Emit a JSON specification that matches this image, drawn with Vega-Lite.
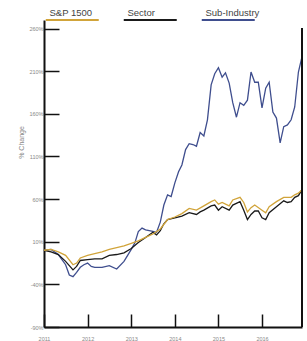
{
  "$schema": "https://vega.github.io/schema/vega-lite/v6.json",
  "autosize": {"type": "none"},
  "padding": {"left": 44, "top": 20, "right": 5, "bottom": 14},
  "width": 258,
  "height": 307,
  "background": "white",
  "config": {
    "view": {"stroke": null},
    "font": "Liberation Sans",
    "axis": {"grid": false, "domainColor": "#111", "domainWidth": 2, "tickColor": "#111", "tickWidth": 1.5, "labelColor": "#888", "labelFontSize": 5.5, "titleColor": "#888"}
  },
  "data": {"values": [
    {"date":"2011-01-01","series":"Sub-Industry","value":0},
    {"date":"2011-03-01","series":"Sub-Industry","value":1},
    {"date":"2011-05-01","series":"Sub-Industry","value":-5},
    {"date":"2011-07-01","series":"Sub-Industry","value":-17},
    {"date":"2011-08-01","series":"Sub-Industry","value":-29},
    {"date":"2011-09-01","series":"Sub-Industry","value":-31},
    {"date":"2011-10-01","series":"Sub-Industry","value":-26},
    {"date":"2011-11-01","series":"Sub-Industry","value":-20},
    {"date":"2011-12-01","series":"Sub-Industry","value":-17},
    {"date":"2012-01-01","series":"Sub-Industry","value":-15},
    {"date":"2012-02-01","series":"Sub-Industry","value":-19},
    {"date":"2012-03-01","series":"Sub-Industry","value":-20},
    {"date":"2012-05-01","series":"Sub-Industry","value":-20},
    {"date":"2012-07-01","series":"Sub-Industry","value":-18},
    {"date":"2012-09-01","series":"Sub-Industry","value":-22},
    {"date":"2012-11-01","series":"Sub-Industry","value":-13},
    {"date":"2013-01-01","series":"Sub-Industry","value":1},
    {"date":"2013-02-01","series":"Sub-Industry","value":9},
    {"date":"2013-03-01","series":"Sub-Industry","value":22},
    {"date":"2013-04-01","series":"Sub-Industry","value":26},
    {"date":"2013-05-01","series":"Sub-Industry","value":24},
    {"date":"2013-07-01","series":"Sub-Industry","value":22},
    {"date":"2013-08-01","series":"Sub-Industry","value":21},
    {"date":"2013-09-01","series":"Sub-Industry","value":33},
    {"date":"2013-10-01","series":"Sub-Industry","value":53},
    {"date":"2013-11-01","series":"Sub-Industry","value":65},
    {"date":"2013-12-01","series":"Sub-Industry","value":63},
    {"date":"2014-01-01","series":"Sub-Industry","value":79},
    {"date":"2014-02-01","series":"Sub-Industry","value":92},
    {"date":"2014-03-01","series":"Sub-Industry","value":100},
    {"date":"2014-04-01","series":"Sub-Industry","value":118},
    {"date":"2014-05-01","series":"Sub-Industry","value":125},
    {"date":"2014-06-01","series":"Sub-Industry","value":124},
    {"date":"2014-07-01","series":"Sub-Industry","value":122},
    {"date":"2014-08-01","series":"Sub-Industry","value":138},
    {"date":"2014-09-01","series":"Sub-Industry","value":134},
    {"date":"2014-10-01","series":"Sub-Industry","value":153},
    {"date":"2014-11-01","series":"Sub-Industry","value":194},
    {"date":"2014-12-01","series":"Sub-Industry","value":207},
    {"date":"2015-01-01","series":"Sub-Industry","value":214},
    {"date":"2015-02-01","series":"Sub-Industry","value":203},
    {"date":"2015-03-01","series":"Sub-Industry","value":208},
    {"date":"2015-04-01","series":"Sub-Industry","value":196},
    {"date":"2015-05-01","series":"Sub-Industry","value":173},
    {"date":"2015-06-01","series":"Sub-Industry","value":156},
    {"date":"2015-07-01","series":"Sub-Industry","value":173},
    {"date":"2015-08-01","series":"Sub-Industry","value":170},
    {"date":"2015-09-01","series":"Sub-Industry","value":176},
    {"date":"2015-10-01","series":"Sub-Industry","value":209},
    {"date":"2015-11-01","series":"Sub-Industry","value":197},
    {"date":"2015-12-01","series":"Sub-Industry","value":197},
    {"date":"2016-01-01","series":"Sub-Industry","value":167},
    {"date":"2016-02-01","series":"Sub-Industry","value":190},
    {"date":"2016-03-01","series":"Sub-Industry","value":197},
    {"date":"2016-04-01","series":"Sub-Industry","value":162},
    {"date":"2016-05-01","series":"Sub-Industry","value":155},
    {"date":"2016-06-01","series":"Sub-Industry","value":126},
    {"date":"2016-07-01","series":"Sub-Industry","value":145},
    {"date":"2016-08-01","series":"Sub-Industry","value":147},
    {"date":"2016-09-01","series":"Sub-Industry","value":153},
    {"date":"2016-10-01","series":"Sub-Industry","value":168},
    {"date":"2016-11-01","series":"Sub-Industry","value":209},
    {"date":"2016-12-01","series":"Sub-Industry","value":227},
    {"date":"2011-01-01","series":"Sector","value":0},
    {"date":"2011-03-01","series":"Sector","value":-2},
    {"date":"2011-05-01","series":"Sector","value":-5},
    {"date":"2011-07-01","series":"Sector","value":-13},
    {"date":"2011-09-01","series":"Sector","value":-23},
    {"date":"2011-10-01","series":"Sector","value":-19},
    {"date":"2011-11-01","series":"Sector","value":-12},
    {"date":"2012-01-01","series":"Sector","value":-11},
    {"date":"2012-03-01","series":"Sector","value":-10},
    {"date":"2012-05-01","series":"Sector","value":-10},
    {"date":"2012-07-01","series":"Sector","value":-6},
    {"date":"2012-09-01","series":"Sector","value":-5},
    {"date":"2012-11-01","series":"Sector","value":-3},
    {"date":"2013-01-01","series":"Sector","value":2},
    {"date":"2013-03-01","series":"Sector","value":9},
    {"date":"2013-05-01","series":"Sector","value":15},
    {"date":"2013-07-01","series":"Sector","value":21},
    {"date":"2013-08-01","series":"Sector","value":18},
    {"date":"2013-09-01","series":"Sector","value":23},
    {"date":"2013-10-01","series":"Sector","value":31},
    {"date":"2013-11-01","series":"Sector","value":36},
    {"date":"2014-01-01","series":"Sector","value":38},
    {"date":"2014-03-01","series":"Sector","value":40},
    {"date":"2014-05-01","series":"Sector","value":44},
    {"date":"2014-07-01","series":"Sector","value":42},
    {"date":"2014-08-01","series":"Sector","value":45},
    {"date":"2014-09-01","series":"Sector","value":47},
    {"date":"2014-11-01","series":"Sector","value":52},
    {"date":"2014-12-01","series":"Sector","value":53},
    {"date":"2015-01-01","series":"Sector","value":47},
    {"date":"2015-02-01","series":"Sector","value":51},
    {"date":"2015-04-01","series":"Sector","value":47},
    {"date":"2015-05-01","series":"Sector","value":53},
    {"date":"2015-07-01","series":"Sector","value":57},
    {"date":"2015-08-01","series":"Sector","value":47},
    {"date":"2015-09-01","series":"Sector","value":36},
    {"date":"2015-10-01","series":"Sector","value":42},
    {"date":"2015-11-01","series":"Sector","value":46},
    {"date":"2015-12-01","series":"Sector","value":46},
    {"date":"2016-01-01","series":"Sector","value":38},
    {"date":"2016-02-01","series":"Sector","value":36},
    {"date":"2016-03-01","series":"Sector","value":44},
    {"date":"2016-05-01","series":"Sector","value":51},
    {"date":"2016-07-01","series":"Sector","value":58},
    {"date":"2016-08-01","series":"Sector","value":56},
    {"date":"2016-09-01","series":"Sector","value":57},
    {"date":"2016-10-01","series":"Sector","value":62},
    {"date":"2016-11-01","series":"Sector","value":64},
    {"date":"2016-12-01","series":"Sector","value":71},
    {"date":"2011-01-01","series":"S&P 1500","value":0},
    {"date":"2011-03-01","series":"S&P 1500","value":1},
    {"date":"2011-05-01","series":"S&P 1500","value":-2},
    {"date":"2011-07-01","series":"S&P 1500","value":-6},
    {"date":"2011-09-01","series":"S&P 1500","value":-17},
    {"date":"2011-10-01","series":"S&P 1500","value":-15},
    {"date":"2011-11-01","series":"S&P 1500","value":-9},
    {"date":"2012-01-01","series":"S&P 1500","value":-6},
    {"date":"2012-03-01","series":"S&P 1500","value":-4},
    {"date":"2012-05-01","series":"S&P 1500","value":-2},
    {"date":"2012-07-01","series":"S&P 1500","value":1},
    {"date":"2012-09-01","series":"S&P 1500","value":3},
    {"date":"2012-11-01","series":"S&P 1500","value":5},
    {"date":"2013-01-01","series":"S&P 1500","value":8},
    {"date":"2013-03-01","series":"S&P 1500","value":11},
    {"date":"2013-05-01","series":"S&P 1500","value":15},
    {"date":"2013-07-01","series":"S&P 1500","value":19},
    {"date":"2013-09-01","series":"S&P 1500","value":25},
    {"date":"2013-11-01","series":"S&P 1500","value":36},
    {"date":"2014-01-01","series":"S&P 1500","value":39},
    {"date":"2014-03-01","series":"S&P 1500","value":43},
    {"date":"2014-05-01","series":"S&P 1500","value":49},
    {"date":"2014-07-01","series":"S&P 1500","value":47},
    {"date":"2014-09-01","series":"S&P 1500","value":52},
    {"date":"2014-11-01","series":"S&P 1500","value":57},
    {"date":"2014-12-01","series":"S&P 1500","value":59},
    {"date":"2015-01-01","series":"S&P 1500","value":54},
    {"date":"2015-02-01","series":"S&P 1500","value":56},
    {"date":"2015-04-01","series":"S&P 1500","value":52},
    {"date":"2015-05-01","series":"S&P 1500","value":59},
    {"date":"2015-07-01","series":"S&P 1500","value":62},
    {"date":"2015-08-01","series":"S&P 1500","value":56},
    {"date":"2015-09-01","series":"S&P 1500","value":45},
    {"date":"2015-10-01","series":"S&P 1500","value":50},
    {"date":"2015-11-01","series":"S&P 1500","value":53},
    {"date":"2016-01-01","series":"S&P 1500","value":47},
    {"date":"2016-02-01","series":"S&P 1500","value":44},
    {"date":"2016-03-01","series":"S&P 1500","value":51},
    {"date":"2016-05-01","series":"S&P 1500","value":57},
    {"date":"2016-07-01","series":"S&P 1500","value":62},
    {"date":"2016-09-01","series":"S&P 1500","value":62},
    {"date":"2016-10-01","series":"S&P 1500","value":65},
    {"date":"2016-11-01","series":"S&P 1500","value":67},
    {"date":"2016-12-01","series":"S&P 1500","value":71}
  ]},
  "layer": [
    {
      "mark": {"type": "line", "strokeWidth": 1.3, "interpolate": "linear"},
      "encoding": {
        "x": {"field": "date", "type": "temporal",
          "scale": {"domain": ["2011-01-01", "2016-12-01"], "nice": false},
          "axis": {"title": null, "format": "%Y", "tickCount": {"interval": "year"}, "tickSize": -13, "labelPadding": 22, "labelFlush": false, "labelAlign": "center"}},
        "y": {"field": "value", "type": "quantitative",
          "scale": {"domain": [-90, 270], "nice": false, "zero": false},
          "axis": {"title": "% Change", "values": [-90, -40, 10, 60, 110, 160, 210, 260], "labelExpr": "datum.value + '%'", "tickSize": -15, "labelPadding": 16, "titleFontSize": 7, "titleFontWeight": "normal", "titlePadding": 4, "titleY": 122}},
        "color": {"field": "series", "type": "nominal",
          "scale": {"domain": ["S&P 1500", "Sector", "Sub-Industry"], "range": ["#d1a43a", "#1a1a1a", "#3f4e8e"]},
          "legend": {"title": null, "orient": "none", "legendX": -2, "legendY": -12, "direction": "horizontal", "symbolType": "M-1,7H52", "symbolSize": 4, "symbolStrokeWidth": 2, "labelOffset": -2, "labelFontSize": 9.5, "labelColor": "#444", "columnPadding": 16}}
      }
    },
    {
      "mark": {"type": "rule", "color": "#111", "strokeWidth": 2},
      "encoding": {
        "x": {"datum": {"year": 2016, "month": 12, "date": 1}, "type": "temporal"},
        "y": {"datum": -90},
        "y2": {"datum": 260}
      }
    }
  ]
}
